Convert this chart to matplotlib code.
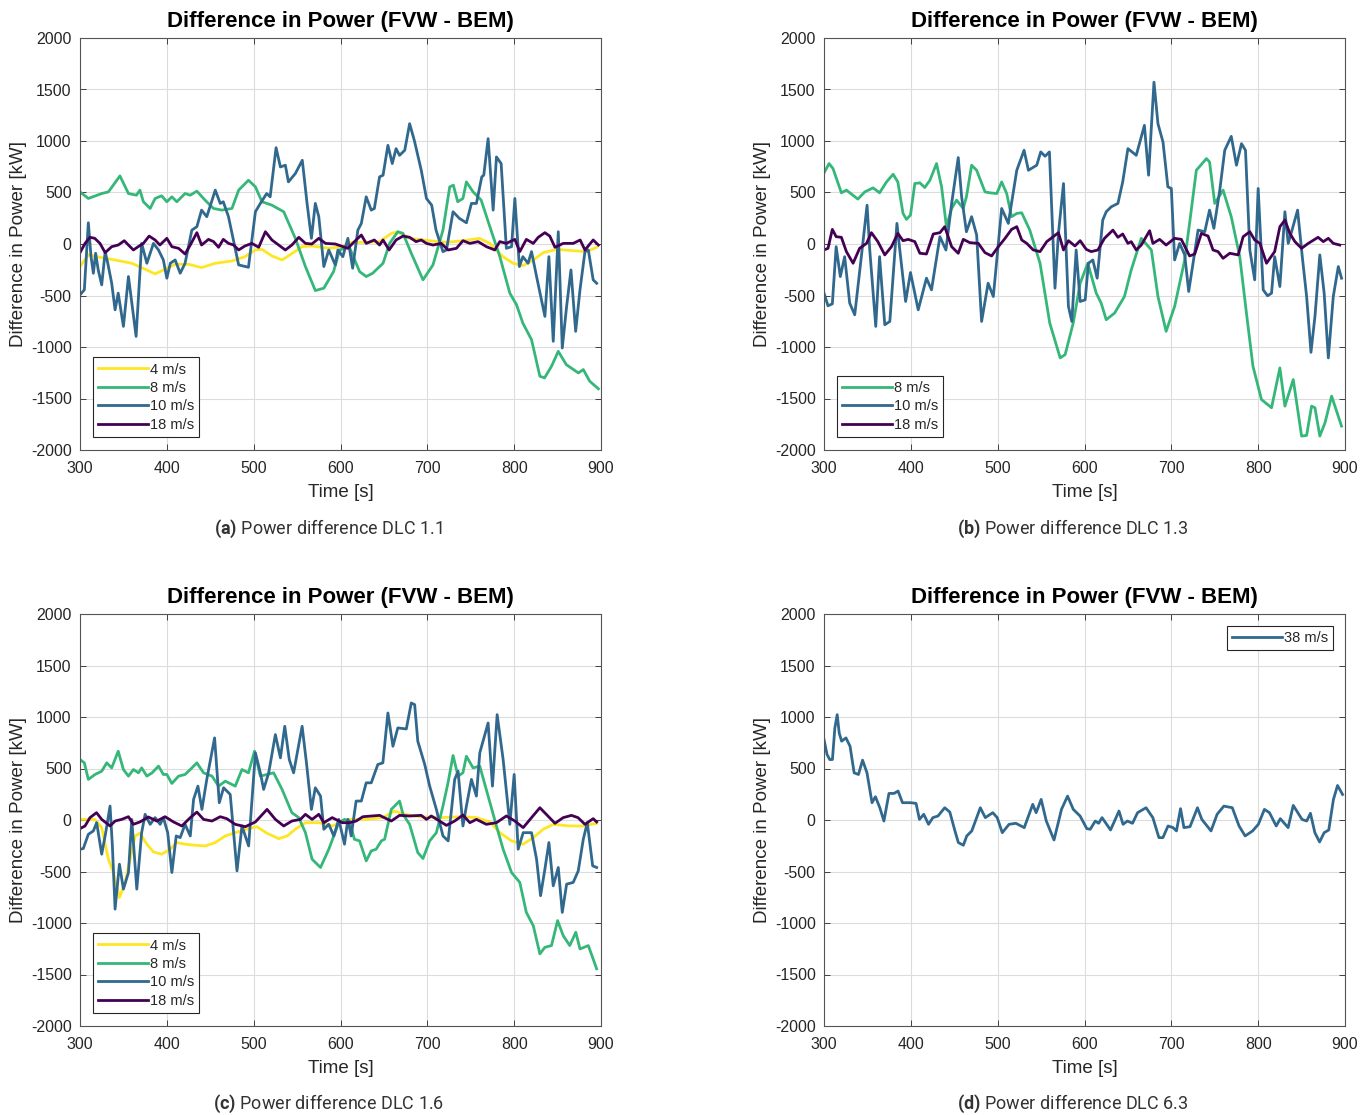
import numpy as np
import matplotlib
matplotlib.use('Agg')
import matplotlib.pyplot as plt

plt.rcParams['font.family'] = ['Liberation Sans', 'DejaVu Sans']
plt.rcParams['axes.unicode_minus'] = False
plt.rcParams['mathtext.fontset'] = 'custom'
plt.rcParams['mathtext.rm'] = 'Roboto'
plt.rcParams['mathtext.bf'] = 'Roboto:bold'

# colours of the wind speeds (viridis-like, as in the MATLAB figure)
colors = {'4 m/s': '#FDE725', '8 m/s': '#35B779', '10 m/s': '#31688E',
          '18 m/s': '#440154', '38 m/s': '#31688E'}

# ---- DLC 1.1 : (time [s], power difference [kW]) ----
a_4 = [(300, -219), (309.6, -106), (325, -132), (340, -155), (359.6, -187), (375, -245), (386.5, -290),
       (398, -245), (409.6, -197), (425, -197), (440, -229), (455.8, -187), (475, -165), (490, -123),
       (502, -58), (509.6, -52), (521, -116), (532.7, -155), (540, -116), (555.8, -26), (567, -19),
       (586.5, -42), (602, -26), (610, 13), (626, 16), (645, 23), (658.5, 103), (666, 119), (679.6, 55),
       (702.7, 32), (722, 16), (741, 32), (760, 55), (772, 6), (787, -123), (798.8, -187), (810, -210),
       (822, -155), (833.5, -84), (849, -52), (868, -65), (883.5, -74), (895, -32)]
a_8 = [(300, 506), (309.6, 442), (325, 490), (332.7, 506), (346, 661), (355.8, 490), (365, 474), (369, 523),
       (373, 410), (380.8, 345), (386.5, 442), (394, 468), (400, 410), (405.8, 458), (411.5, 410), (421, 490),
       (427, 474), (434.6, 513), (444, 426), (453.8, 345), (463.5, 329), (475, 345), (482.7, 523), (494, 619),
       (502, 555), (509.6, 410), (521, 377), (534.6, 313), (548, 55), (559.6, -219), (571, -452),
       (580.8, -429), (592, -268), (599, -58), (610, -26), (622, -268), (629.6, -316), (637, -284),
       (649, -187), (656.5, 6), (666, 119), (672, 103), (681.5, -90), (695, -348), (706.5, -203), (718, 135),
       (725.8, 555), (730, 571), (735, 410), (741, 442), (745, 603), (752.7, 506), (762, 426), (772, 168),
       (783.5, -123), (795, -477), (802.7, -590), (810, -768), (820, -929), (829.6, -1284), (835, -1300),
       (843, -1187), (850.8, -1042), (860, -1171), (874, -1252), (879.6, -1219), (887, -1332), (897, -1406)]
a_10 = [(300, -494), (305, -445), (309.6, 206), (312.7, -123), (315.4, -284), (318, -90), (321, -252),
        (325, -397), (329, -74), (332, -187), (336.5, -381), (340.4, -639), (344, -477), (350, -800),
        (355.8, -316), (364.6, -897), (371, 6), (377, -187), (384.6, 6), (390.4, -58), (396, -155),
        (400, -332), (404, -187), (409.6, -155), (415.4, -284), (421, -187), (428.8, 135), (434.6, 168),
        (440, 329), (446, 265), (455.8, 523), (461.5, 394), (465, 410), (471, 265), (482.7, -203),
        (494, -226), (502, 313), (507.7, 394), (515, 490), (519, 458), (525.8, 935), (530.8, 748),
        (536.5, 765), (540, 603), (548, 684), (556, 813), (561.5, 394), (566.5, 55), (571, 394), (575, 265),
        (580.8, -219), (586.5, -58), (594, -203), (597, -58), (602.7, -123), (608.5, 55), (614, -235),
        (620, 135), (624, 200), (629.6, 458), (635.4, 329), (639, 345), (645, 652), (649, 668), (654.6, 958),
        (659.6, 781), (664, 926), (668, 861), (674, 910), (679.6, 1168), (685, 1006), (693, 716), (699, 442),
        (705, 377), (710, 135), (718, -74), (722, -58), (729.6, 313), (737, 248), (745, 206), (750.8, 394),
        (756.5, 394), (762.7, 652), (765, 668), (770, 1023), (775.8, 329), (779.6, 845), (785, 781),
        (791, -42), (797, -26), (800.8, 442), (806, -219), (810, -123), (816, -187), (820, -74),
        (825.8, -316), (835.4, -703), (840, -123), (845, -945), (850.8, 119), (855.4, -1010), (860.4, -606),
        (865.4, -252), (870.8, -848), (875.8, -445), (881.5, -74), (885.4, -58), (891, -348), (895, -381)]
a_18 = [(300, -84), (305.8, 6), (311.5, 65), (317, 55), (323, 6), (329, -84), (336.5, -26), (344, -10),
        (351, 32), (355.8, -10), (361.5, -58), (367, -26), (373, 6), (379.6, 77), (386.5, 39), (392, -10),
        (400, 55), (405.8, -26), (413.5, -42), (421, -97), (427, -10), (434.6, 110), (440, -10), (448, 45),
        (453.8, 23), (459.6, -32), (465, 45), (471, 6), (477, -10), (482.7, -58), (490, -19), (498, 6),
        (505.8, -32), (513.5, 119), (521, 39), (528.8, -10), (536.5, -58), (544, -10), (552, 65),
        (559.6, 6), (567, 0), (575, 55), (582.7, 6), (594, 0), (608.5, -42), (616, 23), (624, 87),
        (629.6, 6), (639, 39), (645, -10), (649, 39), (656, -58), (664, 39), (672, 77), (679.6, 65),
        (687, 23), (693, 39), (699, 6), (706.5, -10), (716, 6), (724, -58), (733.5, -42), (741, 32),
        (749, 6), (758.5, 23), (768, -26), (777.7, -58), (783.5, 23), (791, 6), (800.8, 45), (806.5, -74),
        (814, 45), (822, 6), (827.7, 65), (835.4, 110), (841, 77), (847, -32), (856.5, 6), (868, 6),
        (876, 39), (881.5, -58), (891, 39), (897, -10)]

# ---- DLC 1.3 ----
b_8 = [(300, 690), (305.8, 781), (310.4, 732), (320, 497), (325.8, 523), (339, 436), (347, 506),
       (356.5, 545), (364, 497), (372, 603), (379.6, 677), (385, 603), (391, 297), (395, 239), (399.6, 281),
       (404.6, 587), (410.4, 594), (416, 548), (422, 619), (429.6, 781), (435.4, 555), (441, 168), (447, 345),
       (452.7, 426), (460.4, 345), (464, 458), (470, 765), (475.8, 716), (485.4, 506), (491, 497), (499, 490),
       (504.6, 603), (510.4, 490), (516, 265), (522, 297), (527.7, 303), (537, 135), (548.8, -187),
       (560, -768), (572, -1106), (577.7, -1074), (587, -768), (595, -381), (603.8, -187), (613.5, -477),
       (619.2, -574), (625, -735), (634.6, -671), (646, -510), (653.8, -252), (665.4, 55), (677, -58),
       (684.6, -510), (694, -848), (703.8, -606), (715.4, -155), (721, 200), (728.8, 716), (740.4, 829),
       (744, 797), (750, 394), (759.6, 523), (769, 265), (778.8, -123), (786.5, -671), (794, -1187),
       (803.8, -1510), (815.4, -1590), (825, -1203), (830.8, -1574), (840.4, -1316), (850, -1865),
       (855.8, -1858), (861.5, -1574), (865.4, -1590), (871, -1865), (877, -1735), (884.6, -1477),
       (896, -1768)]
b_10 = [(300, -477), (304.6, -600), (309.6, -581), (314, -26), (318.8, -316), (323.8, -123), (329.6, -574),
        (335.4, -687), (343, -123), (349.6, 377), (352.7, -58), (359.6, -800), (364, -123), (370, -784),
        (375.8, -752), (384, 200), (387.3, -58), (394, -558), (399.6, -277), (408.5, -639), (418, -332),
        (423.8, -445), (433.5, 71), (440.4, -58), (447, 394), (454.6, 839), (458.5, 458), (464, 119),
        (470, 265), (475.8, 87), (481.5, -752), (489, -381), (495, -510), (504.6, 345), (512.3, 200),
        (522, 716), (530.4, 910), (535.4, 716), (545, 765), (549.6, 894), (554.6, 852), (559.6, 894),
        (566, -429), (570, 103), (575.8, 587), (581.5, -606), (585.4, -752), (590.4, -58), (595, -558),
        (600.8, -542), (604.5, -187), (609.6, -155), (614.6, -332), (621, 232), (625, 313), (630.8, 361),
        (638.5, 394), (644, 603), (650, 926), (659.6, 861), (669, 1152), (673.8, 668), (680, 1571),
        (684.6, 1168), (690.4, 990), (696, 555), (700, 539), (703.8, -155), (709.6, 6), (715.4, -106),
        (720, -461), (725, -187), (730.8, 135), (738.5, 119), (744, 329), (749, 152), (755.8, 523),
        (761.5, 910), (769, 1045), (775, 765), (780.8, 974), (785.4, 910), (790.4, -58), (796, -348),
        (800, 539), (805.8, -445), (810.8, -503), (815.4, -477), (819, -123), (825, -413), (830.8, 313),
        (834.6, 6), (839, 135), (845.4, 329), (850.8, -123), (855.8, -510), (860.8, -1052), (865.4, -703),
        (871, -106), (876, -477), (880.8, -1106), (886.5, -510), (892.3, -219), (896, -332)]
b_18 = [(300, -58), (304.6, -42), (309.6, 142), (314, 71), (320, 65), (325.8, -74), (333.5, -187),
        (341, -42), (349, 6), (354.6, 110), (362, 23), (370, -106), (377.7, -26), (385, 103), (391, 32),
        (397, 45), (404.6, 23), (410.4, -90), (418, -97), (425.8, 97), (433.5, 110), (439, 168), (447, -26),
        (454.6, -90), (460.4, 45), (468, 13), (477.7, 6), (485.4, -84), (493, -116), (500.8, -26),
        (508.5, 55), (516, 142), (522, 168), (527.7, 39), (533.5, 6), (541, -58), (548.8, -74), (556.5, 23),
        (564, 71), (570, 110), (575.8, -58), (581.5, 32), (589, -19), (595, 32), (602, -52), (607.7, -74),
        (615.4, -58), (623, 55), (632.7, 135), (638.5, 65), (644, 97), (650, 6), (653.8, 23), (659.6, -58),
        (665.4, -10), (675, 129), (678.8, 6), (686.5, 45), (694, -10), (703.8, 55), (711.5, 45), (721, -116),
        (727, -97), (734.6, 103), (742.3, 77), (748, -58), (753.8, -74), (759.6, -139), (767.3, -90),
        (777, -106), (782.7, 71), (790.4, 119), (796, 39), (802, 6), (809.6, -187), (819, -74), (825, 168),
        (830.8, 232), (836.5, 103), (842.3, 23), (850, -42), (857.7, 6), (869, 65), (875, 23), (880.8, 55),
        (886.5, 6), (894, -10)]

# ---- DLC 1.6 ----
c_4 = [(300, 6), (309.6, 6), (317, 6), (325, -74), (332.7, -381), (338.5, -510), (345.4, -752), (352, -606),
       (357.7, -381), (363.5, -155), (369, -129), (377, -235), (384.6, -310), (394, -332), (403.8, -284),
       (411.5, -219), (421, -235), (432.7, -245), (444, -252), (455.8, -219), (467.3, -155), (478.8, -123),
       (494, -84), (503.8, -65), (515.4, -129), (528.8, -181), (538.5, -155), (548, -90), (559.6, -26),
       (575, -26), (590.4, -58), (602, -19), (610.4, 6), (629.6, 6), (648.8, 23), (662, 87), (673.8, 55),
       (691, 32), (714, 23), (741, 32), (756.5, 23), (772, -19), (783.5, -123), (797, -203), (810.4, -235),
       (822, -171), (833.5, -90), (845, -42), (864, -58), (879.6, -58), (895, -32)]
c_8 = [(300, 587), (305, 555), (309.6, 394), (317.3, 442), (325, 474), (330.8, 555), (336.5, 506), (344, 668),
       (350, 490), (355.8, 426), (361.5, 490), (367.3, 458), (371, 506), (377, 426), (383, 458), (390.4, 523),
       (396, 442), (400, 442), (405.8, 355), (413.5, 426), (421, 442), (427, 490), (434.6, 555), (442.3, 458),
       (452, 426), (459.6, 329), (467.3, 377), (478.8, 329), (486.5, 490), (494, 458), (501, 668),
       (507.7, 426), (515.4, 442), (523, 458), (532.7, 297), (544, 71), (552, 23), (559.6, -123),
       (567.3, -381), (577, -461), (586.5, -284), (598, -26), (604.6, 6), (610.4, -10), (616, -187),
       (622, -203), (629.6, -397), (635.4, -300), (641, -284), (647, -203), (650.8, -187), (658.5, 103),
       (668, 184), (672, 55), (679.6, -42), (689, -316), (695, -374), (702.7, -203), (710.4, -123),
       (718, 135), (723.8, 361), (729.6, 626), (735.4, 426), (741, 458), (745, 619), (752.7, 506),
       (760.4, 523), (770, 232), (779.6, -58), (787.3, -284), (797, -510), (806.5, -606), (814, -897),
       (822, -1026), (829.6, -1300), (835.4, -1236), (843, -1219), (850, -977), (856.5, -1123), (864, -1219),
       (871, -1090), (875.8, -1252), (885.4, -1219), (895, -1445)]
c_10 = [(300, -284), (303.8, -277), (309.6, -139), (315.4, -106), (319.2, -26), (325, -332), (329.6, -123),
        (334.6, 135), (337.3, -252), (340.4, -865), (345.4, -429), (350, -671), (355.8, -510), (359.6, 6),
        (365.4, -671), (371, -123), (375, 55), (380.8, -42), (386.5, 23), (392.3, -42), (396, 23), (401, -123),
        (405.8, -510), (410.8, -155), (415.4, -171), (421, -42), (427, -155), (430.8, 200), (435.8, 329),
        (440.4, 103), (446, 394), (455, 797), (460.4, 168), (465.4, 313), (473, 248), (480.8, -494),
        (486.5, -58), (494.2, -252), (502, 652), (507.7, 458), (511.5, 297), (517.3, 458), (525, 829),
        (530.8, 603), (535.8, 910), (541, 587), (546, 458), (555.8, 910), (560.8, 555), (566.5, 103),
        (571, 313), (577, 232), (580.8, -90), (586.5, -42), (592.3, -155), (598, 6), (604.6, -235),
        (608.5, 6), (612.3, -155), (618, 184), (624, 184), (629.6, 361), (635.4, 361), (643, 539),
        (648.8, 555), (654.6, 1039), (660.4, 716), (666, 894), (675.8, 884), (681.5, 1136), (685.4, 1120),
        (689, 765), (697, 539), (702.7, 329), (710.4, 103), (718, -155), (724, -203), (731.5, 394),
        (735.4, 474), (741, -58), (745, 135), (750.8, 394), (756.5, 232), (760.4, 652), (770, 942),
        (775, 329), (780.4, 1023), (787.3, 587), (795, -42), (800, 442), (804.6, -284), (810.4, -123),
        (820, -123), (825.8, -381), (830.4, -735), (835.4, -477), (840, -219), (845, -639), (850.8, -461),
        (855.4, -897), (860.4, -623), (868, -606), (873.8, -494), (879.6, -187), (884.2, -26), (890.4, -445),
        (895, -461)]
c_18 = [(300, -84), (305.8, -58), (311.5, 23), (319, 71), (325, 6), (334.6, -58), (340.4, -10), (348, 6),
        (355.8, 32), (361.5, -42), (369, -19), (378.8, 29), (388.5, -10), (398, 32), (407.7, -19),
        (417.3, -58), (427, 23), (434.6, 77), (442.3, 6), (452, -10), (461.5, 32), (469, 13), (478.8, -42),
        (490.4, -65), (502, -19), (515.4, 103), (525, 6), (534.6, -58), (544, -10), (553.8, 6), (559.6, 55),
        (567.3, 6), (575, 55), (580.8, -26), (590.4, 23), (602, -26), (610.4, -26), (618, -10), (625.8, 32),
        (645, 45), (658.5, -10), (668, 45), (679.6, 39), (693, 45), (699, 6), (704.6, 39), (714, -10),
        (722, -52), (731.5, -10), (741, 48), (749, -26), (756.5, 6), (768, -42), (779.6, -26), (791, 39),
        (800.8, -10), (810.4, -74), (820, 23), (829.6, 119), (837, 55), (847, -32), (856.5, 23), (866, 45),
        (873.5, 23), (881.5, -42), (891, 13), (895, -19)]

# ---- DLC 6.3 ----
d_38 = [(300, 781), (303.5, 636), (306.6, 587), (309.7, 587), (312.5, 894), (315.2, 1023), (317.5, 845),
        (320.3, 765), (325.3, 797), (330, 716), (334.7, 458), (339.7, 442), (344.4, 581), (349.5, 458),
        (355.3, 168), (359.2, 226), (364.3, 119), (369, -10), (374.8, 258), (380.6, 258), (385.3, 281),
        (390.4, 168), (400, 168), (406, 161), (409.9, 6), (414.9, 55), (420.4, -42), (425.4, 23), (431.3, 39),
        (439, 119), (444.9, 77), (450.8, -106), (454.7, -219), (460.5, -245), (464.4, -155), (470.2, -106),
        (480, 119), (485.8, 23), (494.4, 71), (499.5, 23), (505.3, -123), (513.1, -42), (520.9, -32),
        (530.6, -74), (540.4, 152), (544.3, 71), (550.1, 200), (556, -10), (564.9, -194), (573.5, 103),
        (580.5, 232), (587.1, 103), (594.9, 39), (602.7, -84), (606.6, -90), (612.4, -10), (616.3, -32),
        (620.2, 23), (630, -97), (639.7, 87), (644.4, -42), (649.4, -10), (655.3, -32), (661.1, 71),
        (670.9, 119), (678.7, 23), (685.7, -171), (690.3, -171), (696.2, -58), (702, -74), (705.9, -106),
        (710.6, 110), (714.5, -74), (721.5, -65), (730.1, 119), (735.1, 6), (745.7, -106), (752.7, 55),
        (760.5, 135), (770.2, 119), (778, -58), (785, -155), (793.6, -106), (800.2, -42), (807.2, 103),
        (813, 71), (820.8, -58), (825.5, 13), (834.5, -74), (840.4, 142), (850.5, 6), (855.9, -10),
        (860.2, 65), (865.3, -123), (870.7, -213), (876, -123), (881.3, -97), (886.7, 200), (891.4, 335),
        (897.2, 248)]

panels = [
    ('(a)', 'Power difference DLC 1.1', [('4 m/s', a_4), ('8 m/s', a_8), ('10 m/s', a_10), ('18 m/s', a_18)]),
    ('(b)', 'Power difference DLC 1.3', [('8 m/s', b_8), ('10 m/s', b_10), ('18 m/s', b_18)]),
    ('(c)', 'Power difference DLC 1.6', [('4 m/s', c_4), ('8 m/s', c_8), ('10 m/s', c_10), ('18 m/s', c_18)]),
    ('(d)', 'Power difference DLC 6.3', [('38 m/s', d_38)]),
]

W, H = 1371, 1115
fig = plt.figure(figsize=(W / 100, H / 100), dpi=100)
lefts = [80, 824, 80, 824]
tops = [38, 38, 614, 614]
aw, ah = 521, 412
cap_y = [529, 529, 1104, 1104]
edge = '#262626'

for i, (tag, caption, series) in enumerate(panels):
    ax = fig.add_axes([lefts[i] / W, 1 - (tops[i] + ah) / H, aw / W, ah / H])
    for name, pts in series:
        t, p = np.array(pts).T
        ax.plot(t, p, color=colors[name], lw=2.0, label=name)
    ax.set_xlim(300, 900)
    ax.set_ylim(-2000, 2000)
    ax.set_xticks(np.arange(300, 901, 100))
    ax.set_yticks(np.arange(-2000, 2001, 500))
    ax.grid(True, color='#dcdcdc', lw=0.8)
    ax.set_axisbelow(True)
    ax.tick_params(direction='in', top=True, right=True, length=4, width=0.6,
                   colors=edge, labelsize=11.5)
    ax.tick_params(axis='x', pad=8)
    ax.tick_params(axis='y', pad=6)
    for s in ax.spines.values():
        s.set_color('#555555')
        s.set_linewidth(0.8)
    ax.set_title('Difference in Power (FVW - BEM)', fontsize=16, fontweight='bold', pad=8)
    ax.set_xlabel('Time [s]', fontsize=13.5, color=edge, labelpad=6)
    ax.set_ylabel('Difference in Power [kW]', fontsize=13.5, color=edge, labelpad=3)
    kw = dict(borderaxespad=0, fontsize=10.5, handlelength=3.4, handletextpad=0.15,
              labelspacing=0.3, borderpad=0.35, fancybox=False, framealpha=1, edgecolor=edge)
    if tag == '(d)':
        leg = ax.legend(loc='upper right', bbox_to_anchor=(0.977, 0.971), **kw)
    else:
        leg = ax.legend(loc='lower left', bbox_to_anchor=(0.025, 0.032), **kw)
    leg.get_frame().set_linewidth(0.8)
    for txt in leg.get_texts():
        txt.set_color(edge)
    fig.text((lefts[i] + aw / 2 - 12) / W, 1 - cap_y[i] / H,
             r'$\mathbf{' + tag + r'}$ ' + caption,
             ha='center', va='center', fontsize=13, family='Roboto', color='#333333')

fig.savefig('out.png', dpi=100)
